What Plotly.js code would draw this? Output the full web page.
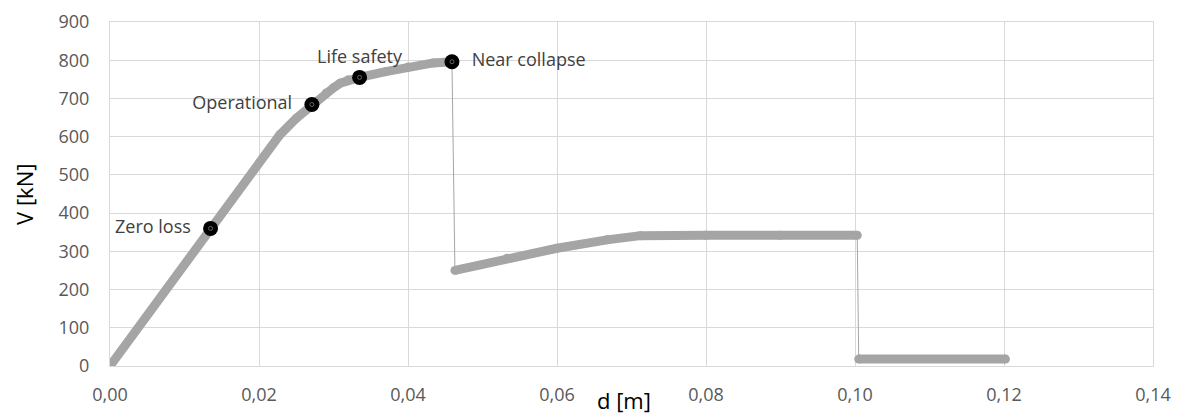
<!DOCTYPE html>
<html>
<head>
<meta charset="utf-8">
<script src="https://cdn.plot.ly/plotly-3.0.1.min.js"></script>
<style>html,body{margin:0;padding:0;background:#fff;}#chart{width:1182px;height:414px;}</style>
</head>
<body>
<div id="chart"></div>
<script>
// Pre-peak branch
const xPre = [0, 0.0135, 0.0228, 0.0250, 0.0271, 0.0290, 0.0300, 0.0309, 0.0320, 0.0335, 0.0370, 0.0400, 0.0434, 0.0459];
const yPre = [0, 360, 605, 648, 684, 714, 728, 740, 749, 755, 770, 782, 793, 796];
// Post-drop branch
const xMid = [0.0463, 0.0533, 0.0600, 0.0667, 0.0712, 0.0800, 0.0900, 0.1003];
const yMid = [250, 282, 308, 330, 341, 342, 342, 342];
// Residual branch
const xRes = [0.1005, 0.1202];
const yRes = [18, 18];
// Drops
const xDrop1 = [0.0459, 0.0463];
const yDrop1 = [796, 250];
const xDrop2 = [0.1003, 0.1005];
const yDrop2 = [342, 18];
// Performance levels
const perfNames = ["Zero loss", "Operational", "Life safety", "Near collapse"];
const perfX = [0.0135, 0.0271, 0.0335, 0.0459];
const perfY = [360, 684, 755, 796];
const perfPos = ["middle left", "middle left", "top center", "middle right"];
const xTicks = [0, 0.02, 0.04, 0.06, 0.08, 0.10, 0.12, 0.14];
const xTitle = 'd [m]';
const yTitle = 'V [kN]';

const grey = '#a5a5a5';
const FONT = 'Open Sans, sans-serif';
const thick = (x, y) => ({x, y, mode: 'lines+markers', line: {color: grey, width: 9}, marker: {color: grey, size: 9}, hoverinfo: 'skip', showlegend: false});
const thin = (x, y) => ({x, y, mode: 'lines', line: {color: grey, width: 1}, hoverinfo: 'skip', showlegend: false});

const labels = perfNames.map((s, i) => perfPos[i] === 'middle left' ? s + '  ' : (perfPos[i] === 'middle right' ? '  ' + s : s));

const traces = [
  thin(xDrop1, yDrop1), thin(xDrop2, yDrop2),
  thick(xPre, yPre), thick(xMid, yMid), thick(xRes, yRes),
  {x: perfX, y: perfY, mode: 'markers+text', text: labels, textposition: perfPos,
   marker: {color: '#000', size: 15}, textfont: {family: FONT, size: 18, color: '#404040'}, showlegend: false, hoverinfo: 'skip'},
  {x: perfX, y: perfY, mode: 'markers', marker: {symbol: 'circle-open', color: '#666', size: 4, line: {width: 1, color: '#666'}}, showlegend: false, hoverinfo: 'skip'}
];

const layout = {
  width: 1182, height: 414,
  margin: {l: 110, r: 29, t: 22, b: 48},
  paper_bgcolor: '#fff', plot_bgcolor: '#fff',
  separators: ', ',
  font: {family: FONT, color: '#595959', size: 18},
  xaxis: {
    range: [0, 0.14], tickvals: xTicks, tickformat: '.2f',
    showgrid: true, gridcolor: '#d9d9d9', gridwidth: 1,
    showline: true, mirror: true, linecolor: '#d9d9d9', linewidth: 1,
    zeroline: false, ticks: '', ticklabelstandoff: 12,
    tickfont: {family: FONT, size: 18, color: '#595959'}
  },
  yaxis: {
    range: [0, 900], dtick: 100, tick0: 0,
    showgrid: true, gridcolor: '#d9d9d9', gridwidth: 1,
    showline: true, mirror: true, linecolor: '#d9d9d9', linewidth: 1,
    zeroline: false, ticks: '', ticklabelstandoff: 16,
    tickfont: {family: FONT, size: 18, color: '#595959'}
  },
  annotations: [
    {text: xTitle, xref: 'paper', yref: 'paper', x: 0.4928, y: -0.099, xanchor: 'center', yanchor: 'middle',
     showarrow: false, font: {family: FONT, size: 22, color: '#000'}},
    {text: yTitle, xref: 'paper', yref: 'paper', x: -0.0825, y: 0.5, xanchor: 'center', yanchor: 'middle', textangle: -90,
     showarrow: false, font: {family: FONT, size: 22, color: '#000'}}
  ]
};
Plotly.newPlot('chart', traces, layout, {displayModeBar: false, staticPlot: true});
</script>
</body>
</html>
